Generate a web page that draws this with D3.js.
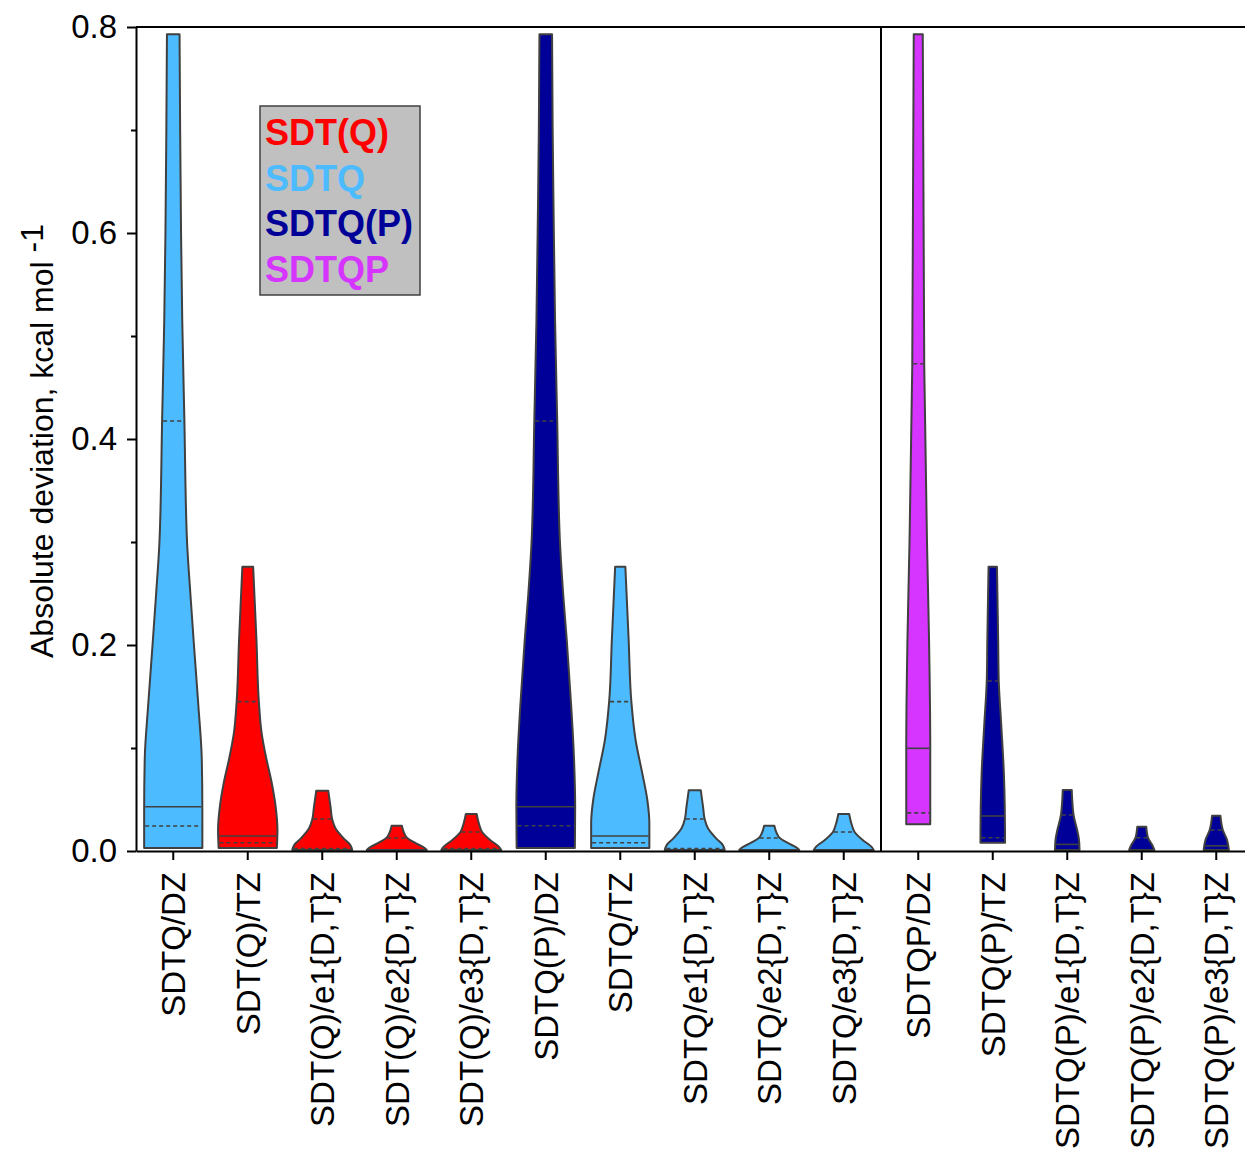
<!DOCTYPE html>
<html>
<head>
<meta charset="utf-8">
<script src="https://cdn.jsdelivr.net/npm/d3@7"></script>
<style>
  body { margin: 0; background: #fff; }
  svg { display: block; font-family: Arial, "Liberation Sans", sans-serif; }
</style>
</head>
<body>
<svg id="chart" width="1245" height="1153"></svg>
<script>
// Basis-set / method combinations along the x axis
const categories = [
  "SDTQ/DZ", "SDT(Q)/TZ", "SDT(Q)/e1{D,T}Z", "SDT(Q)/e2{D,T}Z", "SDT(Q)/e3{D,T}Z",
  "SDTQ(P)/DZ", "SDTQ/TZ", "SDTQ/e1{D,T}Z", "SDTQ/e2{D,T}Z", "SDTQ/e3{D,T}Z",
  "SDTQP/DZ", "SDTQ(P)/TZ", "SDTQ(P)/e1{D,T}Z", "SDTQ(P)/e2{D,T}Z", "SDTQ(P)/e3{D,T}Z"
];
// Method used for each violin (sets its colour)
const methodOf = [
  "SDTQ", "SDT(Q)", "SDT(Q)", "SDT(Q)", "SDT(Q)",
  "SDTQ(P)", "SDTQ", "SDTQ", "SDTQ", "SDTQ",
  "SDTQP", "SDTQ(P)", "SDTQ(P)", "SDTQ(P)", "SDTQ(P)"
];
const methods = ["SDT(Q)", "SDTQ", "SDTQ(P)", "SDTQP"];
const methodColors = ["#ff0000", "#4dbbff", "#000099", "#d535ff"];

// Kernel density outline of each violin: deviation levels (kcal/mol) ...
const profileLevels = [
  [0.003, 0.04, 0.09, 0.14, 0.2, 0.25, 0.3, 0.42, 0.515, 0.6, 0.7, 0.793],
  [0.003, 0.02, 0.043, 0.066, 0.091, 0.115, 0.145, 0.205, 0.276],
  [0.001, 0.006, 0.012, 0.022, 0.031, 0.042, 0.0585],
  [0.001, 0.0032, 0.0076, 0.0126, 0.0172, 0.0245],
  [0.001, 0.0042, 0.0107, 0.0184, 0.0252, 0.036],
  [0.003, 0.043, 0.091, 0.14, 0.205, 0.25, 0.302, 0.42, 0.515, 0.6, 0.7, 0.793],
  [0.003, 0.027, 0.05, 0.076, 0.108, 0.145, 0.205, 0.276],
  [0.001, 0.006, 0.012, 0.022, 0.031, 0.042, 0.059],
  [0.001, 0.0032, 0.0076, 0.0126, 0.0172, 0.0245],
  [0.001, 0.0042, 0.0107, 0.0184, 0.0252, 0.036],
  [0.026, 0.1, 0.205, 0.302, 0.47, 0.6, 0.793],
  [0.008, 0.043, 0.076, 0.124, 0.165, 0.205, 0.276],
  [0.001, 0.011, 0.0204, 0.035, 0.0592],
  [0.001, 0.0058, 0.0128, 0.0235],
  [0.001, 0.0107, 0.0204, 0.0342]
];
// ... and the relative density at each of those levels
const profileDensity = [
  [0.97, 0.97, 0.95, 0.84, 0.69, 0.57, 0.46, 0.37, 0.30, 0.26, 0.23, 0.21],
  [0.97, 0.99, 0.93, 0.80, 0.61, 0.46, 0.37, 0.29, 0.18],
  [1.00, 0.93, 0.72, 0.44, 0.33, 0.28, 0.20],
  [1.00, 0.92, 0.63, 0.35, 0.25, 0.17],
  [1.00, 0.92, 0.63, 0.36, 0.27, 0.18],
  [0.97, 0.98, 0.94, 0.85, 0.70, 0.58, 0.47, 0.38, 0.31, 0.27, 0.23, 0.21],
  [0.97, 0.97, 0.90, 0.73, 0.51, 0.37, 0.28, 0.17],
  [1.00, 0.93, 0.72, 0.44, 0.33, 0.28, 0.20],
  [1.00, 0.92, 0.63, 0.35, 0.25, 0.17],
  [1.00, 0.92, 0.63, 0.36, 0.27, 0.18],
  [0.40, 0.40, 0.36, 0.29, 0.20, 0.18, 0.15],
  [0.41, 0.40, 0.37, 0.28, 0.20, 0.18, 0.14],
  [0.41, 0.39, 0.33, 0.21, 0.15],
  [0.42, 0.35, 0.21, 0.15],
  [0.42, 0.36, 0.22, 0.14]
];
// Solid statistic line inside each violin (null = none drawn)
const solidLines = [0.043, 0.0146, null, null, null, 0.043, 0.0146, null, null, null,
                    0.0997, 0.034, 0.0064, null, 0.005];
// Dashed statistic lines inside each violin
const dashedLines = [
  [0.0243, 0.4175], [0.008, 0.145], [0.031, 0.0025], [0.0126], [0.0184, 0.0025],
  [0.0245, 0.4175], [0.008, 0.145], [0.031, 0.0025], [0.0126], [0.0184],
  [0.037, 0.473], [0.0128, 0.165], [0.035], [0.0128], [0.0204]
];
const yTicks = [0, 0.2, 0.4, 0.6, 0.8];
const yMinorTicks = [0.1, 0.3, 0.5, 0.7];

const svg = d3.select("#chart");
const plotLeft = 136, plotTop = 27, plotBottom = 851;
const step = 74.5;

const x = d3.scaleBand().domain(categories).range([plotLeft, plotLeft + step * categories.length]).padding(0);
const y = d3.scaleLinear().domain([0, 0.8]).range([plotBottom, plotTop]);
const w = d3.scaleLinear().domain([0, 1]).range([0, 30]);
const color = d3.scaleOrdinal().domain(methods).range(methodColors);
const cx = c => x(c) + x.bandwidth() / 2;

const ink = "#404040";

// Violins
const area = d3.area().curve(d3.curveMonotoneY);

categories.forEach((cat, i) => {
  const c = cx(cat);
  const pts = profileLevels[i].map((v, k) => ({ v, d: profileDensity[i][k] }));
  const g = svg.append("g");
  g.append("path")
    .datum(pts)
    .attr("d", area
      .y(p => y(p.v))
      .x0(p => c - w(p.d))
      .x1(p => c + w(p.d)))
    .attr("fill", color(methodOf[i]))
    .attr("stroke", ink)
    .attr("stroke-width", 2)
    .attr("stroke-linejoin", "round");

  const dens = d3.scaleLinear().domain(profileLevels[i]).range(profileDensity[i]).clamp(true);
  const stat = (v, dashed) => {
    const hw = w(dens(v)) - 1;
    g.append("line")
      .attr("x1", c - hw).attr("x2", c + hw)
      .attr("y1", y(v)).attr("y2", y(v))
      .attr("stroke", ink)
      .attr("stroke-width", 1.6)
      .attr("stroke-dasharray", dashed ? "4,3" : null);
  };
  if (solidLines[i] != null) stat(solidLines[i], false);
  dashedLines[i].forEach(v => stat(v, true));
});

// Frame: top edge and the divider between the two panels
svg.append("line")
  .attr("x1", plotLeft).attr("x2", 1245).attr("y1", plotTop).attr("y2", plotTop)
  .attr("stroke", "#000").attr("stroke-width", 2);
svg.append("line")
  .attr("x1", x(categories[10])).attr("x2", x(categories[10]))
  .attr("y1", plotTop).attr("y2", plotBottom)
  .attr("stroke", "#000").attr("stroke-width", 2);

// Y axis
const yAxis = svg.append("g")
  .attr("transform", `translate(${plotLeft},0)`)
  .call(d3.axisLeft(y).tickValues(yTicks).tickFormat(d3.format(".1f")).tickSize(9).tickSizeOuter(0));
yAxis.select(".domain").attr("stroke", "#000").attr("stroke-width", 2);
yAxis.selectAll(".tick line").attr("stroke", "#000").attr("stroke-width", 2);
yAxis.selectAll(".tick text").attr("font-size", 33).attr("fill", "#000")
  .attr("x", -19).attr("font-family", "Arial, 'Liberation Sans', sans-serif");

const yMinor = svg.append("g")
  .attr("transform", `translate(${plotLeft},0)`)
  .call(d3.axisLeft(y).tickValues(yMinorTicks).tickFormat("").tickSize(5).tickSizeOuter(0));
yMinor.select(".domain").remove();
yMinor.selectAll(".tick line").attr("stroke", "#000").attr("stroke-width", 2);

// X axis
const xAxis = svg.append("g")
  .attr("transform", `translate(0,${plotBottom})`)
  .call(d3.axisBottom(x).tickSize(9).tickSizeOuter(0).tickFormat(""));
xAxis.select(".domain").attr("stroke", "#000").attr("stroke-width", 2);
xAxis.selectAll(".tick line").attr("stroke", "#000").attr("stroke-width", 2);

svg.append("g").selectAll("text")
  .data(categories)
  .join("text")
  .attr("transform", d => `translate(${cx(d)},872) rotate(-90)`)
  .attr("text-anchor", "end")
  .attr("dy", "0.36em")
  .attr("font-size", 33)
  .attr("fill", "#000")
  .text(d => d);

// Y axis title
const title = svg.append("text")
  .attr("transform", "translate(53,441) rotate(-90)")
  .attr("text-anchor", "middle")
  .attr("font-size", 32)
  .attr("fill", "#000");
title.append("tspan").text("Absolute deviation, kcal mol ");
title.append("tspan").attr("dy", "-0.3em").text("-1");

// Legend
const legend = svg.append("g");
legend.append("rect")
  .attr("x", 260).attr("y", 106).attr("width", 160).attr("height", 189)
  .attr("fill", "#c0c0c0").attr("stroke", ink).attr("stroke-width", 1.5);
legend.selectAll("text")
  .data(methods)
  .join("text")
  .attr("x", 265)
  .attr("y", (d, i) => 145 + i * 45.5)
  .attr("font-size", 36)
  .attr("font-weight", "bold")
  .attr("fill", d => color(d))
  .text(d => d);
</script>
</body>
</html>
